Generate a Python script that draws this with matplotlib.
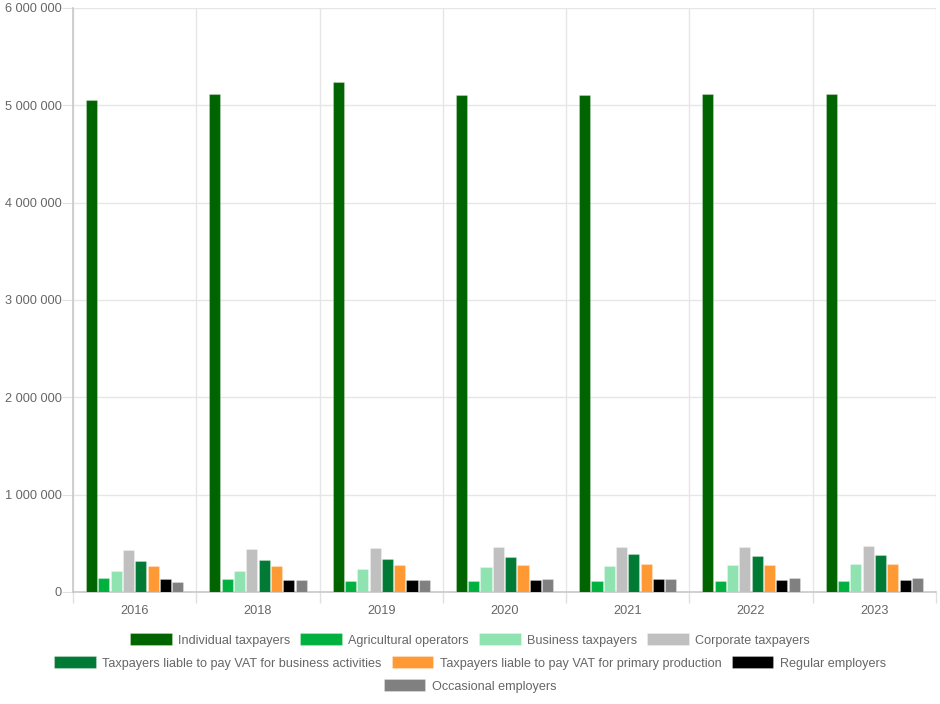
import numpy as np
import matplotlib.pyplot as plt
from matplotlib.ticker import FuncFormatter, MultipleLocator

plt.rcParams['font.family'] = ['Liberation Sans', 'DejaVu Sans']

years = ["2016", "2018", "2019", "2020", "2021", "2022", "2023"]

individual = [5056000, 5120000, 5240000, 5110000, 5110000, 5120000, 5120000]
agricultural = [144000, 137000, 113000, 110000, 110000, 110000, 110000]
business = [219000, 212000, 240000, 254000, 270000, 277000, 284000]
corporate = [435000, 442000, 455000, 459000, 459000, 462000, 476000]
vat_business = [318000, 329000, 342000, 356000, 394000, 373000, 383000]
vat_primary = [270000, 270000, 277000, 277000, 284000, 281000, 288000]
regular = [134000, 123000, 123000, 120000, 134000, 127000, 127000]
occasional = [106000, 123000, 123000, 134000, 137000, 144000, 147000]

series = [
    ("Individual taxpayers", individual, "#006400"),
    ("Agricultural operators", agricultural, "#00b140"),
    ("Business taxpayers", business, "#8fe3b0"),
    ("Corporate taxpayers", corporate, "#c0c0c0"),
    ("Taxpayers liable to pay VAT for business activities", vat_business, "#007a35"),
    ("Taxpayers liable to pay VAT for primary production", vat_primary, "#ff9933"),
    ("Regular employers", regular, "#000000"),
    ("Occasional employers", occasional, "#808080"),
]

fig = plt.figure(figsize=(9.4, 7.04), dpi=100)
ax = fig.add_axes([73 / 940, 1 - 592 / 704, (936 - 73) / 940, (592 - 8) / 704])

x = np.arange(len(years))
n = len(series)
slot = 0.8 / n
handles = []
for i, (name, vals, col) in enumerate(series):
    h = ax.bar(x + (i - (n - 1) / 2) * slot, vals, width=slot * 0.9, color=col,
               edgecolor=(1, 1, 1, 0.25), linewidth=0.8, label=name, zorder=3)
    handles.append(h)

ax.set_xlim(-0.5, len(years) - 0.5)
ax.set_ylim(0, 6000000)
ax.yaxis.set_major_locator(MultipleLocator(1000000))
ax.yaxis.set_major_formatter(FuncFormatter(lambda v, p: f"{int(v):,}".replace(",", " ")))

ax.set_xticks(x)
ax.set_xticklabels(years)
ax.set_xticks(np.arange(-0.5, len(years)), minor=True)
ax.tick_params(axis="x", which="major", length=0, pad=9, labelsize=9.2, labelcolor="#666666")
ax.tick_params(axis="x", which="minor", length=8, color="#e0e0e0", width=1)
ax.tick_params(axis="y", length=8, color="#e0e0e0", pad=0, labelsize=9.2, labelcolor="#666666")

ax.grid(True, axis="y", color="#e6e6e6", linewidth=1, zorder=0)
ax.grid(True, axis="x", which="minor", color="#e6e6e6", linewidth=1, zorder=0)
for s in ["top", "right"]:
    ax.spines[s].set_visible(False)
for s in ["left", "bottom"]:
    ax.spines[s].set_color("#c8c8c8")
    ax.spines[s].set_linewidth(1.2)

rows = [(handles[0:4], 1 - 640 / 704), (handles[4:7], 1 - 663 / 704), (handles[7:8], 1 - 686 / 704)]
for hs, yy in rows:
    leg = fig.legend(hs, [h.get_label() for h in hs], loc="center", bbox_to_anchor=(0.5, yy),
                     ncol=len(hs), frameon=False, fontsize=9.1, handlelength=3.3, handleheight=1.05,
                     handletextpad=0.5, columnspacing=0.8, borderpad=0, borderaxespad=0)
    for t in leg.get_texts():
        t.set_color("#666666")

fig.savefig("out.png", dpi=100)
